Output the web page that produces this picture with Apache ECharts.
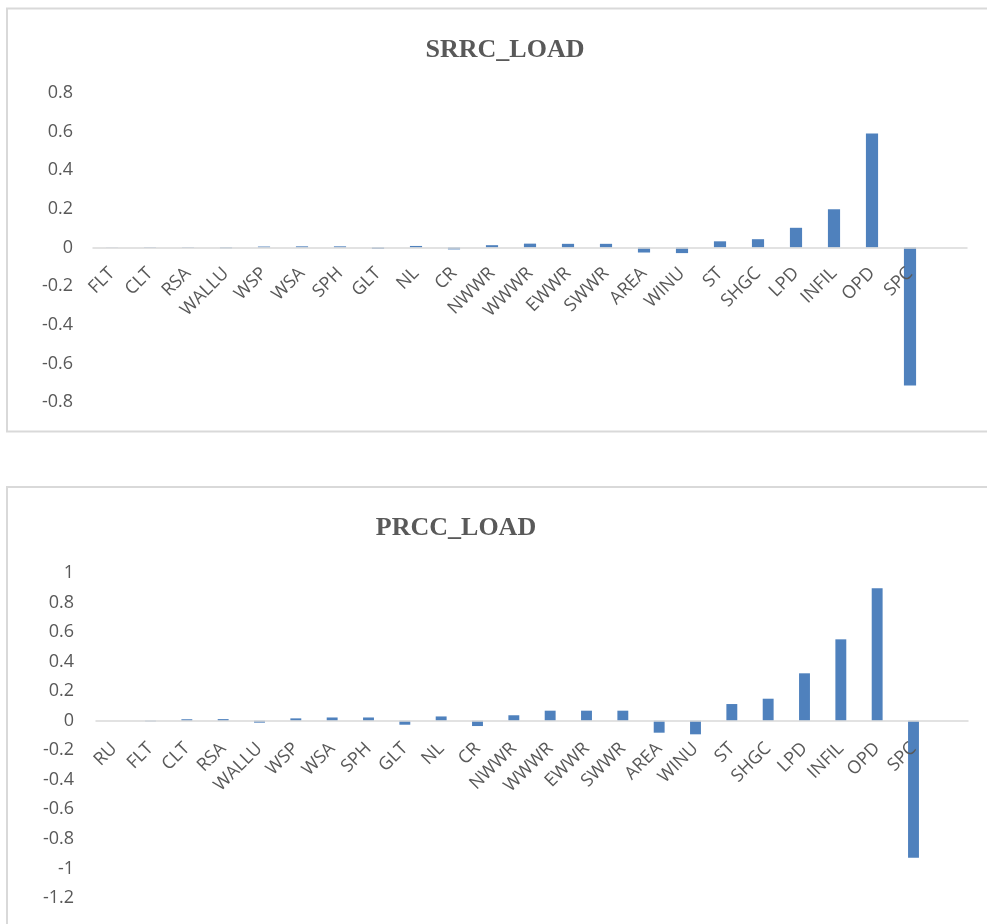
<!DOCTYPE html>
<html>
<head>
<meta charset="utf-8">
<script src="https://cdn.jsdelivr.net/npm/echarts@6.0.0/dist/echarts.min.js"></script>
<style>
html,body{margin:0;padding:0;background:#ffffff;}
#chart{width:987px;height:924px;}
</style>
</head>
<body>
<div id="chart"></div>
<script>
// ---- data ----
const srrcTitle = 'SRRC_LOAD';
const srrcCategories = ['FLT','CLT','RSA','WALLU','WSP','WSA','SPH','GLT','NL','CR','NWWR','WWWR','EWWR','SWWR','AREA','WINU','ST','SHGC','LPD','INFIL','OPD','SPC',''];
const srrcValues = [0.001,0.002,0.002,-0.004,0.005,0.006,0.006,-0.007,0.008,-0.010,0.012,0.020,0.019,0.019,-0.026,-0.029,0.032,0.043,0.102,0.198,0.590,-0.715,null];
const srrcAxis = [-0.8, 0.8, 0.2]; // min, max, step

const prccTitle = 'PRCC_LOAD';
const prccCategories = ['RU','FLT','CLT','RSA','WALLU','WSP','WSA','SPH','GLT','NL','CR','NWWR','WWWR','EWWR','SWWR','AREA','WINU','ST','SHGC','LPD','INFIL','OPD','SPC',''];
const prccValues = [0,-0.004,0.010,0.011,-0.013,0.016,0.022,0.022,-0.027,0.029,-0.036,0.037,0.068,0.068,0.068,-0.081,-0.092,0.113,0.149,0.321,0.551,0.896,-0.928,null];
const prccAxis = [-1.2, 1.0, 0.2];

// ---- styles ----
const barColor = '#4f81bd';
const textColor = '#595959';
const lineColor = '#d9d9d9';
const labelFont = 'Open Sans';

const grids = [
  {left: 93, top: 93, width: 874, height: 309},
  {left: 96, top: 573, width: 872, height: 325}
];

function xAxisFor(idx, cats, ax, margin){
  // place the category axis (line and labels) at the value 0 level
  const off = -grids[idx].height * (0 - ax[0]) / (ax[1] - ax[0]);
  return {
    gridIndex: idx, type: 'category', data: cats, z: 5, offset: off,
    axisTick: {show: false},
    axisLine: {onZero: false, lineStyle: {color: lineColor, width: 1.5}},
    axisLabel: {rotate: 45, interval: 0, margin: margin, color: textColor, fontSize: 18, fontFamily: labelFont}
  };
}
function yAxisFor(idx, ax, margin){
  return {
    gridIndex: idx, type: 'value', min: ax[0], max: ax[1], interval: ax[2],
    splitLine: {show: false}, axisLine: {show: false}, axisTick: {show: false},
    axisLabel: {margin: margin, color: textColor, fontSize: 18, fontFamily: labelFont}
  };
}

const chart = echarts.init(document.getElementById('chart'));
chart.setOption({
  animation: false,
  backgroundColor: '#ffffff',
  graphic: [
    {type: 'rect', shape: {x: 7, y: 8.5, width: 1100, height: 423}, style: {fill: 'none', stroke: lineColor, lineWidth: 2}, z: -1},
    {type: 'rect', shape: {x: 7, y: 487, width: 1100, height: 600}, style: {fill: 'none', stroke: lineColor, lineWidth: 2}, z: -1}
  ],
  title: [
    {text: srrcTitle, left: 500, top: 32, textAlign: 'center',
     textStyle: {fontFamily: 'Liberation Serif', fontWeight: 'bold', fontSize: 26, color: textColor}},
    {text: prccTitle, left: 451, top: 510, textAlign: 'center',
     textStyle: {fontFamily: 'Liberation Serif', fontWeight: 'bold', fontSize: 26, color: textColor}}
  ],
  grid: grids,
  xAxis: [xAxisFor(0, srrcCategories, srrcAxis, 23), xAxisFor(1, prccCategories, prccAxis, 25)],
  yAxis: [yAxisFor(0, srrcAxis, 20), yAxisFor(1, prccAxis, 22)],
  series: [
    {type: 'bar', xAxisIndex: 0, yAxisIndex: 0, data: srrcValues, barWidth: '32%', itemStyle: {color: barColor}},
    {type: 'bar', xAxisIndex: 1, yAxisIndex: 1, data: prccValues, barWidth: '30%', itemStyle: {color: barColor}}
  ]
});
</script>
</body>
</html>
